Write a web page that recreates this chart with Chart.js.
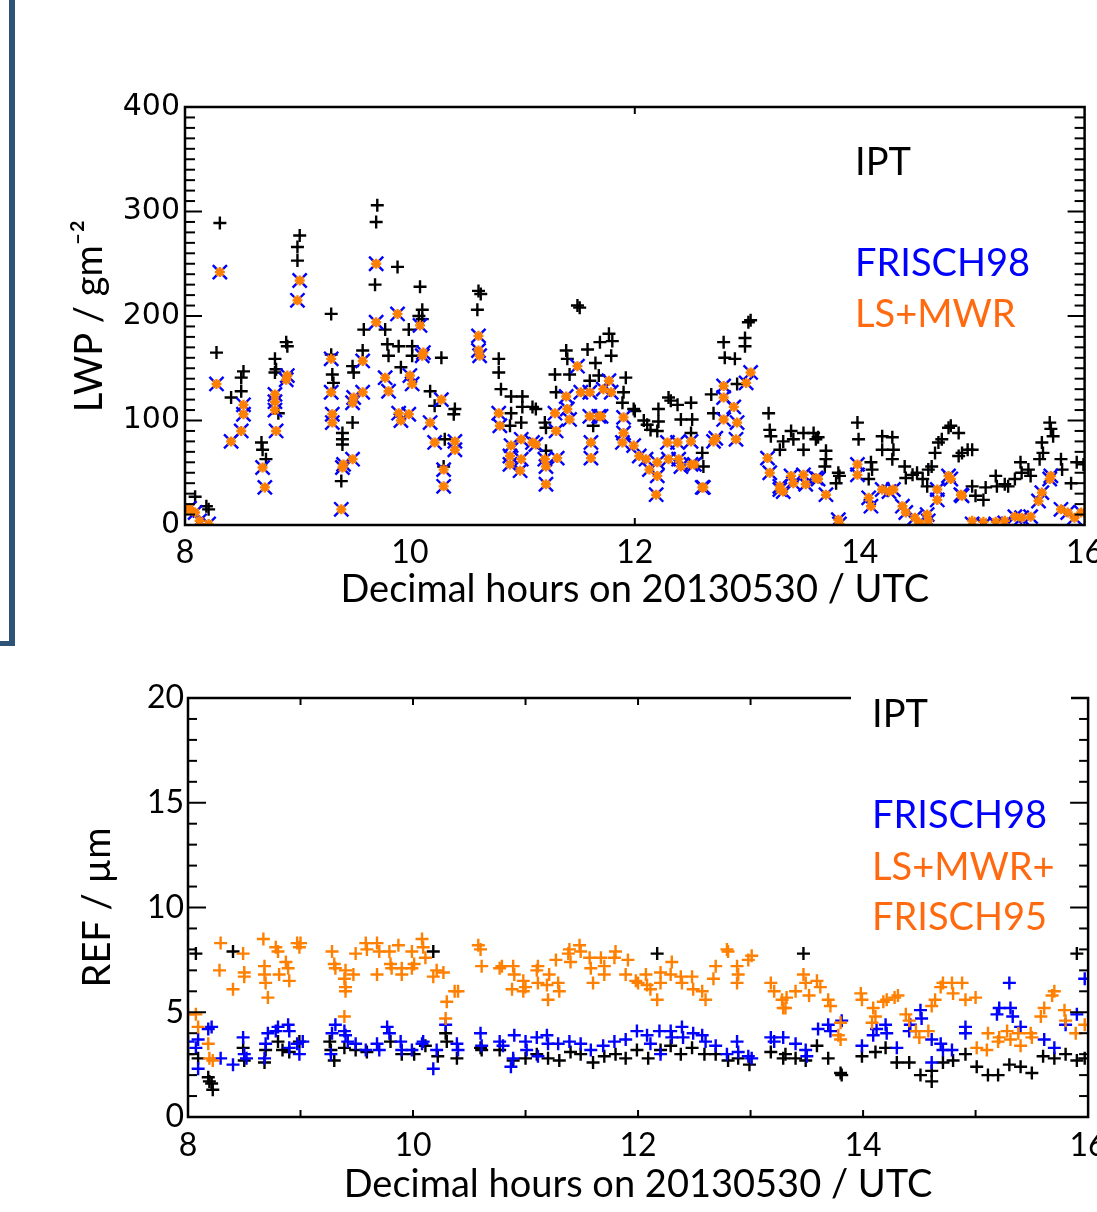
<!DOCTYPE html>
<html>
<head>
<meta charset="utf-8">
<script src="https://cdn.jsdelivr.net/npm/chart.js@4.4.1/dist/chart.umd.min.js"></script>
<style>
  body { margin: 0; background: #fff; }
  #page { position: relative; width: 1097px; height: 1212px; overflow: hidden; background: #fff; }
  canvas { position: absolute; left: 0; }
  #lwp { top: 0; }
  #ref { top: 640px; }
  .slide-v { position: absolute; left: 9px; top: 0; width: 6px; height: 646px; background: #2f5376; }
  .slide-h { position: absolute; left: 0; top: 641px; width: 15px; height: 5px; background: #2f5376; }
</style>
</head>
<body>
<div id="page">
  <canvas id="lwp" width="1097" height="640"></canvas>
  <canvas id="ref" width="1097" height="572"></canvas>
  <div class="slide-v"></div>
  <div class="slide-h"></div>
</div>
<script>
// ---- data: [decimal hour, value] ----
// LWP / g m-2, IPT
const lwpIPT = [
  [8.09,27],[8.19,18],[8.21,15],[8.31,289],[8.28,165],[8.41,122],[8.52,147],[8.50,141],[8.50,128],[8.68,79],
  [8.69,72],[8.72,63],[8.80,159],[8.81,149],[8.80,146],[8.83,107],[8.90,175],[8.91,171],[9.02,277],[9.00,266],
  [9.00,253],[9.30,202],[9.30,163],[9.31,144],[9.32,136],[9.40,88],[9.40,82],[9.40,77],[9.39,42],[9.49,98],
  [9.49,152],[9.50,146],[9.58,167],[9.59,187],[9.71,306],[9.70,290],[9.69,230],[9.78,187],[9.80,173],[9.81,162],
  [9.89,247],[9.90,171],[9.92,151],[9.99,187],[10.02,171],[10.02,162],[10.09,228],[10.11,206],[10.11,197],[10.08,200],
  [10.28,160],[10.18,128],[10.22,114],[10.31,82],[10.30,56],[10.40,111],[10.39,106],[10.61,224],[10.63,221],[10.60,206],
  [10.79,159],[10.79,146],[10.81,130],[10.90,123],[10.90,107],[10.89,95],[11.00,123],[11.00,113],[10.99,98],[11.09,113],
  [11.12,111],[11.20,98],[11.21,93],[11.21,71],[11.29,144],[11.30,127],[11.39,167],[11.40,159],[11.42,144],[11.49,210],
  [11.51,208],[11.58,168],[11.60,138],[11.63,95],[11.65,155],[11.69,175],[11.68,143],[11.77,183],[11.80,176],[11.79,162],
  [11.92,141],[11.90,127],[11.89,117],[11.99,111],[12.00,109],[12.08,100],[12.11,96],[12.14,91],[12.21,111],[12.21,99],
  [12.20,90],[12.30,122],[12.32,119],[12.38,115],[12.41,101],[12.50,117],[12.51,101],[12.50,88],[12.60,69],[12.61,56],
  [12.68,125],[12.70,107],[12.79,175],[12.80,160],[12.89,159],[12.91,135],[12.98,179],[12.98,171],[13.01,194],[13.03,196],
  [13.19,107],[13.20,91],[13.21,85],[13.29,72],[13.32,80],[13.39,90],[13.41,82],[13.50,88],[13.50,72],[13.59,88],
  [13.61,82],[13.63,84],[13.70,71],[13.70,63],[13.69,56],[13.81,50],[13.79,40],[13.82,47],[13.98,98],[13.99,82],
  [14.10,60],[14.11,53],[14.08,44],[14.20,85],[14.20,72],[14.29,84],[14.30,72],[14.29,63],[14.40,56],[14.41,45],
  [14.47,48],[14.51,50],[14.56,44],[14.60,37],[14.61,53],[14.64,56],[14.67,69],[14.70,79],[14.73,82],[14.79,93],
  [14.81,95],[14.88,88],[14.88,66],[14.91,69],[14.96,72],[15.00,72],[15.00,37],[15.03,28],[15.10,24],[15.12,36],
  [15.21,47],[15.22,37],[15.29,39],[15.32,37],[15.38,44],[15.43,60],[15.44,50],[15.50,53],[15.52,47],[15.60,63],
  [15.62,79],[15.63,69],[15.69,98],[15.70,92],[15.72,85],[15.79,63],[15.80,53],[15.88,40],[15.93,60],[15.99,58]
];
// LWP, FRISCH98
const lwpFRISCH98 = [
  [8.02,14],[8.04,16],[8.09,12],[8.13,4],[8.21,1],[8.31,242],[8.28,135],[8.41,80],[8.50,90],[8.52,106],
  [8.52,115],[8.69,55],[8.71,36],[8.80,125],[8.80,118],[8.80,110],[8.81,90],[8.90,139],[8.91,143],[9.02,234],
  [9.00,215],[9.30,159],[9.30,127],[9.31,106],[9.31,98],[9.40,55],[9.41,58],[9.39,15],[9.49,63],[9.49,117],
  [9.50,122],[9.58,157],[9.58,127],[9.70,250],[9.70,194],[9.78,141],[9.81,128],[9.89,202],[9.90,107],[9.92,100],
  [9.99,106],[10.00,143],[10.02,135],[10.09,191],[10.11,162],[10.12,165],[10.18,98],[10.22,79],[10.28,120],[10.30,53],
  [10.30,37],[10.40,80],[10.40,72],[10.61,181],[10.61,167],[10.62,162],[10.79,107],[10.80,95],[10.90,76],[10.89,66],
  [10.89,58],[10.99,82],[10.99,63],[10.98,52],[11.09,79],[11.12,77],[11.20,63],[11.21,56],[11.21,39],[11.31,64],
  [11.29,107],[11.30,90],[11.39,123],[11.40,111],[11.42,101],[11.49,152],[11.52,127],[11.60,104],[11.61,79],[11.61,64],
  [11.60,127],[11.68,104],[11.70,104],[11.72,130],[11.77,138],[11.79,127],[11.90,103],[11.90,88],[11.89,79],[11.99,76],
  [12.04,66],[12.10,63],[12.13,53],[12.20,60],[12.20,47],[12.19,29],[12.29,79],[12.30,63],[12.38,79],[12.39,63],
  [12.41,56],[12.50,80],[12.50,58],[12.53,58],[12.60,36],[12.61,36],[12.70,80],[12.72,83],[12.79,133],[12.79,122],
  [12.79,101],[12.88,113],[12.91,98],[12.90,82],[12.99,136],[13.03,146],[13.18,64],[13.20,50],[13.29,34],[13.32,32],
  [13.29,37],[13.39,47],[13.41,40],[13.50,48],[13.52,39],[13.61,45],[13.63,44],[13.70,29],[13.81,5],[13.82,1],
  [13.98,58],[13.98,48],[14.08,26],[14.10,18],[14.20,34],[14.26,32],[14.30,34],[14.38,18],[14.41,12],[14.49,7],
  [14.53,2],[14.60,10],[14.61,4],[14.69,34],[14.69,24],[14.79,47],[14.81,44],[14.90,29],[14.91,28],[15.00,1],
  [15.10,0],[15.21,1],[15.29,2],[15.38,8],[15.44,7],[15.52,8],[15.59,23],[15.62,31],[15.69,44],[15.70,47],
  [15.79,15],[15.85,12],[15.91,7],[15.97,12]
];
// LWP, LS+MWR (lies almost on top of FRISCH98)
const lwpLSMWR = [
  [8.02,14],[8.04,16],[8.09,12],[8.13,4],[8.21,1],[8.31,242],[8.28,135],[8.41,80],[8.50,90],[8.52,106],
  [8.52,115],[8.69,55],[8.71,36],[8.80,125],[8.80,118],[8.80,110],[8.81,90],[8.90,139],[8.91,143],[9.02,234],
  [9.00,215],[9.30,159],[9.30,127],[9.31,106],[9.31,98],[9.40,55],[9.41,58],[9.39,15],[9.49,63],[9.49,117],
  [9.50,122],[9.58,157],[9.58,127],[9.70,250],[9.70,194],[9.78,141],[9.81,128],[9.89,202],[9.90,107],[9.92,100],
  [9.99,106],[10.00,143],[10.02,135],[10.09,191],[10.11,162],[10.12,165],[10.18,98],[10.22,79],[10.28,120],[10.30,53],
  [10.30,37],[10.40,80],[10.40,72],[10.61,181],[10.61,167],[10.62,162],[10.79,107],[10.80,95],[10.90,76],[10.89,66],
  [10.89,58],[10.99,82],[10.99,63],[10.98,52],[11.09,79],[11.12,77],[11.20,63],[11.21,56],[11.21,39],[11.31,64],
  [11.29,107],[11.30,90],[11.39,123],[11.40,111],[11.42,101],[11.49,152],[11.52,127],[11.60,104],[11.61,79],[11.61,64],
  [11.60,127],[11.68,104],[11.70,104],[11.72,130],[11.77,138],[11.79,127],[11.90,103],[11.90,88],[11.89,79],[11.99,76],
  [12.04,66],[12.10,63],[12.13,53],[12.20,60],[12.20,47],[12.19,29],[12.29,79],[12.30,63],[12.38,79],[12.39,63],
  [12.41,56],[12.50,80],[12.50,58],[12.53,58],[12.60,36],[12.61,36],[12.70,80],[12.72,83],[12.79,133],[12.79,122],
  [12.79,101],[12.88,113],[12.91,98],[12.90,82],[12.99,136],[13.03,146],[13.18,64],[13.20,50],[13.29,34],[13.32,32],
  [13.29,37],[13.39,47],[13.41,40],[13.50,48],[13.52,39],[13.61,45],[13.63,44],[13.70,29],[13.81,5],[13.82,1],
  [13.98,58],[13.98,48],[14.08,26],[14.10,18],[14.20,34],[14.26,32],[14.30,34],[14.38,18],[14.41,12],[14.49,7],
  [14.53,2],[14.60,10],[14.61,4],[14.69,34],[14.69,24],[14.79,47],[14.81,44],[14.90,29],[14.91,28],[15.00,4],
  [15.10,3],[15.21,3],[15.29,4],[15.38,8],[15.44,7],[15.52,8],[15.59,23],[15.62,31],[15.69,44],[15.70,47],
  [15.79,15],[15.85,12],[15.91,7],[15.97,12]
];

// REF / um, IPT
const refIPT = [
  [8.07,7.8],[8.40,7.9],[10.18,7.9],[12.17,7.8],[13.47,7.8],[15.90,7.8],
  [8.00,3.0],[8.09,2.8],[8.18,1.9],[8.19,1.7],[8.21,1.6],[8.22,1.3],[8.49,3.3],[8.50,2.7],[8.68,2.6],[8.69,3.2],
  [8.80,3.6],[8.84,3.2],[8.90,3.1],[8.99,3.6],[9.26,3.6],[9.27,3.2],[9.30,2.7],[9.39,3.3],[9.49,3.2],[9.59,3.1],
  [9.80,3.6],[9.90,3.0],[10.01,3.0],[10.11,3.4],[10.22,2.9],[10.29,4.0],[10.30,3.6],[10.39,2.8],[10.60,3.3],[10.61,3.2],
  [10.77,3.2],[10.89,2.7],[11.00,2.8],[11.10,3.0],[11.20,2.8],[11.30,2.7],[11.40,3.1],[11.49,3.0],[11.60,2.6],[11.70,2.9],
  [11.80,3.0],[11.89,2.8],[11.99,3.2],[12.09,2.8],[12.20,3.2],[12.29,3.4],[12.38,3.0],[12.48,3.3],[12.59,3.0],[12.69,3.0],
  [12.80,2.7],[12.89,2.8],[12.99,2.5],[13.18,3.1],[13.29,2.8],[13.31,3.0],[13.40,2.8],[13.49,2.7],[13.59,3.4],[13.69,2.8],
  [13.80,2.1],[13.81,2.0],[13.99,2.9],[14.11,3.1],[14.20,3.3],[14.30,2.6],[14.41,2.6],[14.51,2.0],[14.61,2.2],[14.61,1.7],
  [14.71,2.6],[14.80,2.7],[14.91,3.0],[15.01,2.4],[15.11,2.0],[15.20,2.0],[15.30,2.5],[15.40,2.4],[15.50,2.1],[15.60,2.9],
  [15.70,2.8],[15.80,3.0],[15.90,2.7],[15.97,2.8]
];
// REF, FRISCH98
const refFRISCH98 = [
  [8.00,3.6],[8.09,3.7],[8.07,3.3],[8.09,2.3],[8.21,4.3],[8.18,4.2],[8.29,2.8],[8.40,2.5],[8.49,3.8],[8.50,3.0],
  [8.52,2.8],[8.68,2.8],[8.69,3.5],[8.71,4.0],[8.78,4.1],[8.80,4.3],[8.89,4.4],[8.90,4.1],[8.90,3.3],[8.97,3.5],
  [8.99,3.0],[9.02,3.6],[9.27,3.0],[9.28,4.0],[9.31,4.4],[9.39,4.1],[9.40,3.9],[9.42,3.6],[9.49,3.5],[9.58,3.2],
  [9.68,3.5],[9.70,3.2],[9.77,4.3],[9.79,4.0],[9.89,3.6],[9.90,3.2],[9.99,3.2],[10.08,3.5],[10.09,3.6],[10.18,2.3],
  [10.21,3.2],[10.29,4.4],[10.39,3.5],[10.40,3.2],[10.60,4.0],[10.61,3.4],[10.77,3.6],[10.80,3.4],[10.90,3.9],[10.89,2.8],
  [10.87,2.4],[11.00,3.6],[11.01,3.2],[11.10,3.8],[11.11,2.9],[11.19,3.9],[11.20,3.5],[11.29,3.5],[11.39,3.6],[11.49,3.5],
  [11.58,3.2],[11.69,3.4],[11.79,3.6],[11.89,3.7],[11.99,4.1],[12.08,3.9],[12.11,3.5],[12.19,4.1],[12.20,3.0],[12.29,4.1],
  [12.30,3.8],[12.39,4.3],[12.40,3.8],[12.49,4.0],[12.57,3.9],[12.60,3.6],[12.69,3.4],[12.79,3.0],[12.88,3.6],[12.89,3.1],
  [12.98,2.9],[13.01,2.8],[13.18,3.8],[13.21,3.6],[13.29,3.8],[13.40,3.5],[13.49,3.2],[13.50,2.9],[13.60,4.2],[13.69,4.4],
  [13.71,4.1],[13.81,4.6],[13.99,3.4],[14.09,3.9],[14.12,4.2],[14.20,4.4],[14.21,4.0],[14.30,3.3],[14.41,4.1],[14.42,4.4],
  [14.51,5.1],[14.52,4.7],[14.61,3.7],[14.61,2.6],[14.69,3.5],[14.71,3.2],[14.79,3.2],[14.91,4.3],[14.91,4.0],[15.19,4.9],
  [15.21,5.2],[15.30,6.4],[15.31,5.2],[15.33,4.8],[15.40,4.3],[15.61,3.7],[15.70,3.3],[15.80,4.4],[15.90,4.9],[15.97,6.6]
];
// REF, LS+MWR+FRISCH95
const refLSMWR = [
  [8.00,4.9],[8.07,4.9],[8.09,4.3],[8.18,3.5],[8.19,2.8],[8.22,2.7],[8.29,8.3],[8.28,7.0],[8.40,6.1],[8.49,7.8],
  [8.50,6.9],[8.50,6.7],[8.67,8.5],[8.68,7.2],[8.68,6.8],[8.69,6.4],[8.71,5.7],[8.78,8.1],[8.80,7.9],[8.81,6.8],
  [8.87,7.4],[8.89,7.1],[8.90,6.5],[8.97,8.3],[8.99,8.1],[9.00,8.3],[9.28,7.9],[9.30,7.3],[9.31,7.1],[9.40,7.0],
  [9.39,6.6],[9.40,6.2],[9.40,6.0],[9.47,6.8],[9.49,7.8],[9.39,4.8],[9.58,8.3],[9.59,8.0],[9.68,8.3],[9.70,7.9],
  [9.68,6.8],[9.79,7.9],[9.80,7.3],[9.81,7.1],[9.87,8.2],[9.90,7.1],[9.90,6.8],[9.99,7.9],[10.01,7.3],[9.99,7.1],
  [10.08,8.5],[10.09,8.1],[10.11,7.6],[10.18,6.7],[10.21,7.0],[10.27,6.9],[10.30,5.5],[10.29,4.7],[10.37,6.0],[10.40,6.0],
  [10.58,8.2],[10.60,8.0],[10.61,7.2],[10.77,7.1],[10.79,7.2],[10.89,7.2],[10.88,6.1],[10.90,6.8],[10.98,6.5],[11.00,6.2],
  [10.98,6.0],[11.10,7.0],[11.11,7.2],[11.11,6.4],[11.19,6.3],[11.20,5.6],[11.21,6.8],[11.27,7.5],[11.29,6.4],[11.30,6.0],
  [11.38,7.8],[11.39,8.0],[11.40,7.4],[11.48,8.2],[11.49,7.9],[11.57,7.6],[11.58,7.1],[11.60,6.4],[11.67,7.6],[11.70,7.2],
  [11.70,6.8],[11.79,7.6],[11.80,7.9],[11.91,7.5],[11.89,6.8],[11.98,6.5],[12.00,6.4],[12.07,6.8],[12.08,6.3],[12.11,6.1],
  [12.17,5.6],[12.20,6.9],[12.20,6.4],[12.30,7.4],[12.29,6.8],[12.38,6.7],[12.39,6.4],[12.48,6.7],[12.49,6.1],[12.57,6.0],
  [12.60,5.6],[12.69,7.2],[12.67,6.6],[12.79,8.0],[12.80,7.9],[12.88,7.2],[12.89,6.8],[12.88,6.4],[12.98,7.5],[13.01,7.7],
  [13.18,6.4],[13.21,6.0],[13.28,5.6],[13.29,5.2],[13.32,5.7],[13.31,5.2],[13.40,6.0],[13.47,6.8],[13.49,6.4],[13.52,5.8],
  [13.59,6.5],[13.62,6.2],[13.69,5.6],[13.71,5.3],[13.80,4.5],[13.78,3.9],[13.80,3.7],[13.98,5.9],[13.99,5.6],[14.09,5.2],
  [14.11,4.8],[14.08,4.5],[14.18,5.5],[14.21,5.6],[14.28,5.7],[14.31,5.8],[14.38,4.9],[14.41,4.6],[14.47,4.1],[14.50,3.8],
  [14.58,4.1],[14.61,5.3],[14.64,5.6],[14.69,6.2],[14.71,6.4],[14.79,6.4],[14.80,5.9],[14.88,6.4],[14.91,5.6],[15.00,5.7],
  [15.01,3.3],[15.10,3.2],[15.11,4.0],[15.20,3.6],[15.21,3.8],[15.28,4.1],[15.31,3.7],[15.38,4.0],[15.40,3.4],[15.49,4.0],
  [15.50,3.8],[15.58,4.8],[15.61,5.2],[15.68,5.8],[15.70,6.0],[15.79,5.1],[15.80,4.6],[15.89,4.0],[15.97,4.4]
];

const hourTicksTop = [12];
const hourTicksBottom = [9, 10, 11, 12, 13, 14, 15];

const BLACK = '#000000';
const BLUE = '#0000ff';
const ORANGE = '#ff8000';
const TEXT_ORANGE = '#ff6a10';
const FONT = 'Lato, "DejaVu Sans", sans-serif';

const toPts = arr => arr.map(p => ({ x: p[0], y: p[1] }));

// box round the plot and inward tick marks (IDL style)
const frameTicks = {
  id: 'frameTicks',
  afterDatasetsDraw(chart, args, opts) {
    const { ctx, chartArea: a, scales: { x, y } } = chart;
    const line = (x1, y1, x2, y2) => { ctx.beginPath(); ctx.moveTo(x1, y1); ctx.lineTo(x2, y2); ctx.stroke(); };
    ctx.save();
    ctx.strokeStyle = '#000';
    ctx.lineWidth = 2;
    const n = Math.round((y.max - y.min) / opts.yMinor);
    for (let i = 0; i <= n; i++) {
      const v = y.min + i * opts.yMinor;
      const py = y.getPixelForValue(v);
      const len = (i % opts.minorPerMajor === 0) ? opts.yMajorLen : opts.yMinorLen;
      line(a.left, py, a.left + len, py);
      line(a.right, py, a.right - len, py);
    }
    opts.xTicks.forEach(v => {
      const px = x.getPixelForValue(v);
      line(px, a.bottom, px, a.bottom - opts.xLen);
      line(px, a.top, px, a.top + opts.xLen);
    });
    ctx.lineWidth = 2.5;
    ctx.strokeRect(a.left, a.top, a.right - a.left, a.bottom - a.top);
    ctx.restore();
  }
};

// coloured key text in the upper right corner
const keyText = {
  id: 'keyText',
  afterDraw(chart, args, opts) {
    const ctx = chart.ctx;
    ctx.save();
    if (opts.box) {
      ctx.fillStyle = '#fff';
      ctx.fillRect(opts.box[0], opts.box[1], opts.box[2], opts.box[3]);
    }
    ctx.font = opts.font;
    ctx.textBaseline = 'alphabetic';
    opts.lines.forEach(l => {
      ctx.fillStyle = l.color;
      ctx.fillText(l.text, opts.x, l.y);
    });
    ctx.restore();
  }
};

function pointSet(label, data, color, style, radius, width, order) {
  return {
    label, data: toPts(data),
    pointStyle: style, pointRadius: radius, pointHoverRadius: radius,
    pointBorderColor: color, pointBackgroundColor: color, pointBorderWidth: width,
    showLine: false, clip: 0, order
  };
}

function xScale(titlePadBottom, height, tickPad) {
  return {
    type: 'linear', min: 8, max: 16,
    ticks: { stepSize: 2, padding: tickPad, color: '#000', font: { family: FONT, size: 32 }, maxRotation: 0, autoSkip: false },
    grid: { display: false, drawTicks: false },
    border: { display: false },
    title: { display: true, text: 'Decimal hours on 20130530 / UTC', color: '#000',
             font: { family: FONT, size: 38 }, padding: { top: 0, bottom: titlePadBottom } },
    afterFit: s => { s.height = height; s.paddingLeft = 0; s.paddingRight = 0; }
  };
}

// ---- LWP panel ----
new Chart(document.getElementById('lwp'), {
  type: 'scatter',
  data: {
    datasets: [
      pointSet('LS+MWR', lwpLSMWR, ORANGE, 'star', 5, 2.4, 1),
      pointSet('FRISCH98', lwpFRISCH98, BLUE, 'crossRot', 10, 2.4, 2),
      pointSet('IPT', lwpIPT, BLACK, 'cross', 6.5, 2.4, 3)
    ]
  },
  options: {
    responsive: false, animation: false, events: [],
    layout: { padding: { top: 107, right: 7, left: 0, bottom: 0 } },
    plugins: {
      legend: { display: false }, tooltip: { enabled: false },
      frameTicks: { yMinor: 10, minorPerMajor: 10, yMajorLen: 17, yMinorLen: 10, xTicks: hourTicksTop, xLen: 7 },
      keyText: {
        x: 855, font: '38px ' + FONT,
        lines: [
          { text: 'IPT', color: BLACK, y: 175 },
          { text: 'FRISCH98', color: BLUE, y: 276 },
          { text: 'LS+MWR', color: TEXT_ORANGE, y: 327 }
        ]
      }
    },
    scales: {
      x: xScale(27, 115, 8),
      y: {
        min: 0, max: 400,
        ticks: { stepSize: 100, padding: 5, color: '#000', font: { family: '"DejaVu Sans", sans-serif', size: 30 } },
        grid: { display: false, drawTicks: false },
        border: { display: false },
        title: { display: true, text: 'LWP / gm\u207B\u00B2', color: '#000',
                 font: { family: FONT, size: 38 }, padding: { top: 67, bottom: 0 } },
        afterFit: s => { s.width = 185; s.paddingTop = 0; s.paddingBottom = 0; }
      }
    }
  },
  plugins: [frameTicks, keyText]
});

// ---- REF panel ----
new Chart(document.getElementById('ref'), {
  type: 'scatter',
  data: {
    datasets: [
      pointSet('LS+MWR+FRISCH95', refLSMWR, ORANGE, 'cross', 6.5, 2.4, 1),
      pointSet('FRISCH98', refFRISCH98, BLUE, 'cross', 6.5, 2.4, 2),
      pointSet('IPT', refIPT, BLACK, 'cross', 6.5, 2.4, 3)
    ]
  },
  options: {
    responsive: false, animation: false, events: [],
    layout: { padding: { top: 58, right: 3, left: 0, bottom: 0 } },
    plugins: {
      legend: { display: false }, tooltip: { enabled: false },
      frameTicks: { yMinor: 1, minorPerMajor: 5, yMajorLen: 18, yMinorLen: 9, xTicks: hourTicksBottom, xLen: 7 },
      keyText: {
        x: 872, font: '38px ' + FONT, box: [851, 50, 220, 52],
        lines: [
          { text: 'IPT', color: BLACK, y: 87 },
          { text: 'FRISCH98', color: BLUE, y: 188 },
          { text: 'LS+MWR+', color: TEXT_ORANGE, y: 240 },
          { text: 'FRISCH95', color: TEXT_ORANGE, y: 290 }
        ]
      }
    },
    scales: {
      x: xScale(4, 95, 9),
      y: {
        min: 0, max: 20,
        ticks: { stepSize: 5, padding: 4, color: '#000', font: { family: FONT, size: 32 } },
        grid: { display: false, drawTicks: false },
        border: { display: false },
        title: { display: true, text: 'REF / \u00B5m', color: '#000',
                 font: { family: FONT, size: 38 }, padding: { top: 75, bottom: 0 } },
        afterFit: s => { s.width = 188; s.paddingTop = 0; s.paddingBottom = 0; }
      }
    }
  },
  plugins: [frameTicks, keyText]
});
</script>
</body>
</html>
